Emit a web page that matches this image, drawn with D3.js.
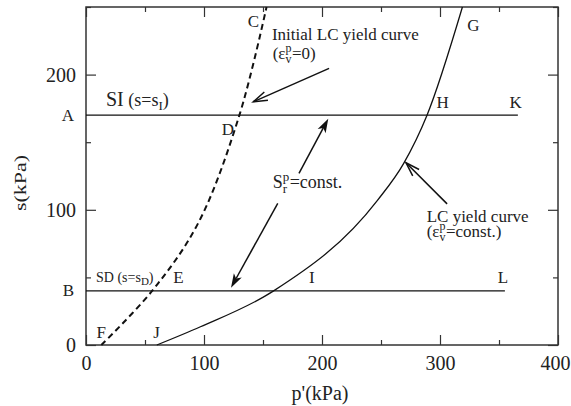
<!DOCTYPE html>
<html>
<head>
<meta charset="utf-8">
<script src="https://cdn.jsdelivr.net/npm/d3@7"></script>
<style>
  body { margin: 0; background: #fff; }
</style>
</head>
<body>
<script>
// yield curves in the (p', s) plane, kPa
const initialCurve = [[13, 0], [56, 40], [95, 90], [130, 170], [153, 250]];
const lcCurve = [[60, 0], [97, 13.5], [159, 40], [247, 107], [269, 134], [289, 170], [319, 250]];
const lineSI = [[0, 170], [366, 170]];
const lineSD = [[0, 40], [355, 40]];

const xTicks = [0, 100, 200, 300, 400];
const xMinor = [50, 150, 250, 350];
const yTicks = [0, 100, 200];
const yMinor = [50, 150, 250];

// point letters: [text, p', s]
const letters = [
  ["C", 137, 235], ["D", 115, 155], ["E", 74, 45.6], ["F", 9, 5],
  ["G", 323, 232.5], ["H", 297, 175], ["I", 189, 45.6], ["J", 57, 5.2],
  ["K", 359, 175], ["L", 349, 45.6]
];
const sideLetters = [["A", 170], ["B", 40]];

// arrows: [tail, head, filled]
const arrows = [
  [[206, 204.6], [141.8, 179.9], false],
  [[180.5, 126.9], [205.3, 167.4], true],
  [[162.5, 104.8], [122.9, 42.4], true],
  [[306, 104.4], [271.2, 134.8], false]
];

const width = 571, height = 406;
const margin = {top: 7, right: 13, bottom: 61, left: 86};
const serif = "\"Liberation Serif\"";

const svg = d3.select("body").append("svg")
    .attr("width", width)
    .attr("height", height);

const x = d3.scaleLinear().domain([0, 400]).range([margin.left, width - margin.right]);
const y = d3.scaleLinear().domain([0, 250]).range([height - margin.bottom, margin.top]);

const axisColor = "#333";

// axes, ticks pointing inside
function styleAxis(g) {
  g.select(".domain").remove();
  g.attr("font-family", null);
  g.selectAll("line").attr("stroke", axisColor).attr("stroke-width", 1.2);
  g.selectAll("text").attr("font-size", 20).attr("fill", "#222").style("font-family", serif);
}

svg.append("g")
    .attr("transform", `translate(0,${y(0)})`)
    .call(d3.axisBottom(x).tickValues(xTicks).tickSize(-10).tickPadding(11).tickFormat(d3.format("d")))
    .call(styleAxis)
    .call(g => g.selectAll("text").filter(d => d === 400).attr("dx", -3));
svg.append("g")
    .attr("transform", `translate(0,${y(0)})`)
    .call(d3.axisBottom(x).tickValues(xMinor).tickSize(-5).tickFormat(""))
    .call(styleAxis);
svg.append("g")
    .attr("transform", `translate(0,${y(250)})`)
    .call(d3.axisTop(x).tickValues(xTicks).tickSize(-10).tickFormat(""))
    .call(styleAxis);
svg.append("g")
    .attr("transform", `translate(0,${y(250)})`)
    .call(d3.axisTop(x).tickValues(xMinor).tickSize(-5).tickFormat(""))
    .call(styleAxis);

svg.append("g")
    .attr("transform", `translate(${x(0)},0)`)
    .call(d3.axisLeft(y).tickValues(yTicks).tickSize(-10).tickPadding(10).tickFormat(d3.format("d")))
    .call(styleAxis);
svg.append("g")
    .attr("transform", `translate(${x(0)},0)`)
    .call(d3.axisLeft(y).tickValues(yMinor).tickSize(-5).tickFormat(""))
    .call(styleAxis);
svg.append("g")
    .attr("transform", `translate(${x(400)},0)`)
    .call(d3.axisRight(y).tickValues(yTicks).tickSize(-10).tickFormat(""))
    .call(styleAxis);
svg.append("g")
    .attr("transform", `translate(${x(400)},0)`)
    .call(d3.axisRight(y).tickValues(yMinor).tickSize(-5).tickFormat(""))
    .call(styleAxis);

// frame
svg.append("rect")
    .attr("x", x(0)).attr("y", y(250))
    .attr("width", x(400) - x(0)).attr("height", y(0) - y(250))
    .attr("fill", "none").attr("stroke", axisColor).attr("stroke-width", 1.5);

// every free text goes through here so it gets the serif face
function addText(parent, px, py, size, str) {
  return parent.append("text")
      .attr("x", px).attr("y", py)
      .attr("font-size", size).attr("fill", "#222")
      .style("font-family", serif)
      .style("white-space", "pre")
      .text(str);
}

// axis titles
addText(svg, (x(0) + x(400)) / 2 - 2, 400, 20, "p'(kPa)")
    .attr("text-anchor", "middle");
addText(svg, 0, 0, 17, "s(kPa)")
    .attr("transform", `translate(26,183) rotate(-90)`)
    .attr("text-anchor", "middle")
    .attr("textLength", 56).attr("lengthAdjust", "spacingAndGlyphs");

const line = d3.line().x(d => x(d[0])).y(d => y(d[1]));
const smooth = d3.line().x(d => x(d[0])).y(d => y(d[1])).curve(d3.curveMonotoneX);
const smoothDash = d3.line().x(d => x(d[0])).y(d => y(d[1])).curve(d3.curveCatmullRom.alpha(0.5));

svg.append("path").datum(lineSI).attr("d", line)
    .attr("fill", "none").attr("stroke", "#111").attr("stroke-width", 1.3);
svg.append("path").datum(lineSD).attr("d", line)
    .attr("fill", "none").attr("stroke", "#111").attr("stroke-width", 1.3);
svg.append("path").datum(lcCurve).attr("d", smooth)
    .attr("fill", "none").attr("stroke", "#111").attr("stroke-width", 1.3);
svg.append("path").datum(initialCurve).attr("d", smoothDash)
    .attr("fill", "none").attr("stroke", "#111").attr("stroke-width", 2)
    .attr("stroke-dasharray", "6,4");

// arrows
arrows.forEach(([t, h, filled]) => {
  const x1 = x(t[0]), y1 = y(t[1]), x2 = x(h[0]), y2 = y(h[1]);
  const a = Math.atan2(y2 - y1, x2 - x1);
  const L = 14, w = 4.5;
  const ux = Math.cos(a), uy = Math.sin(a);
  const lx = x2 - L * ux - w * uy, ly = y2 - L * uy + w * ux;
  const rx = x2 - L * ux + w * uy, ry = y2 - L * uy - w * ux;
  if (filled) {
    const nx = x2 - 0.75 * L * ux, ny = y2 - 0.75 * L * uy;
    svg.append("line").attr("x1", x1).attr("y1", y1).attr("x2", nx).attr("y2", ny)
        .attr("stroke", "#111").attr("stroke-width", 1.5);
    svg.append("path").attr("d", `M${x2},${y2}L${lx},${ly}L${nx},${ny}L${rx},${ry}Z`)
        .attr("fill", "#111");
  } else {
    svg.append("line").attr("x1", x1).attr("y1", y1).attr("x2", x2).attr("y2", y2)
        .attr("stroke", "#111").attr("stroke-width", 1.5);
    svg.append("path").attr("d", `M${lx},${ly}L${x2},${y2}L${rx},${ry}`)
        .attr("fill", "none").attr("stroke", "#111").attr("stroke-width", 1.5);
  }
});

// letters
letters.forEach(d => addText(svg, x(d[1]), y(d[2]), 17, d[0]));
sideLetters.forEach(d => addText(svg, x(0) - 12, y(d[1]), 17, d[0])
    .attr("dy", "0.32em").attr("text-anchor", "end"));

// labels with sub / superscripts; seg = [text, size, dy, stackOnPrevious]
function richLabel(p, s, segs) {
  let cx = x(p), prevX = cx, prevW = 0;
  const by = y(s);
  segs.forEach(([txt, size, dy, stack]) => {
    const sx = stack ? prevX : cx;
    const t = addText(svg, sx, by + dy, size, txt);
    const w = t.node().getComputedTextLength();
    if (stack) {
      cx = sx + Math.max(w, prevW) + 0.5;
    } else {
      prevX = sx; prevW = w;
      cx = sx + w;
    }
  });
}

addText(svg, x(157.6), y(225.6), 17, "Initial LC yield curve");
richLabel(158.2, 211.5, [["(ε", 17, 0], ["p", 12, -7], ["v", 12, 4, true], ["=0)", 17, 0]]);

richLabel(158.2, 116.1, [["S", 18, 0], ["p", 13, -7], ["r", 13, 5, true], ["=const.", 18, 0]]);

addText(svg, x(288.7), y(91.2), 17, "LC yield curve");
richLabel(288.7, 79.9, [["(ε", 17, 0], ["p", 12, -7], ["v", 12, 4, true], ["=const.)", 17, 0]]);

richLabel(16.9, 176.8, [["SI", 20, 0], [" (s=s", 18, 0], ["I", 13, 4], [")", 18, 0]]);
richLabel(8.5, 46.8, [["SD", 14, 0], [" (s=s", 14, 0], ["D", 11, 3], [")", 14, 0]]);
</script>
</body>
</html>
